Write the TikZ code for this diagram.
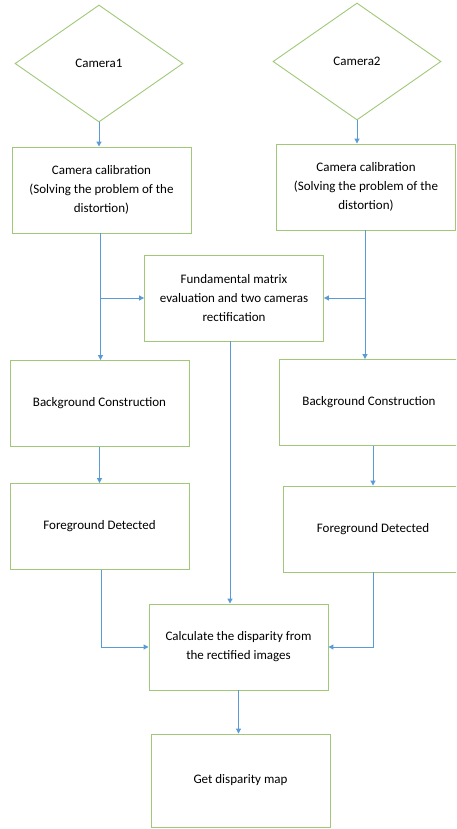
\documentclass[tikz,border=0pt]{standalone}
\usepackage{fontspec}
\setmainfont{Carlito}
\usetikzlibrary{shapes.geometric, arrows.meta}

\definecolor{boxgreen}{RGB}{160,200,120}
\definecolor{flowblue}{RGB}{91,155,213}

\tikzset{
    stepbox/.style={draw=boxgreen, line width=0.9pt, minimum width=179pt, minimum height=86pt,
        align=center, font=\fontsize{13}{19}\selectfont, inner sep=2pt},
    camera/.style={draw=boxgreen, line width=0.9pt, diamond, aspect=1.44, minimum width=168pt,
        minimum height=117pt, inner sep=0pt, font=\fontsize{13}{19}\selectfont},
    flow/.style={draw=flowblue, line width=1pt, -{Triangle[length=5pt, width=5pt]}},
}

\begin{document}
\begin{tikzpicture}[x=1pt, y=-1pt]
    \clip (0,0) rectangle (456,829);

    % Cameras
    \node[camera] (cam1) at (99,63.5) {Camera1};
    \node[camera] (cam2) at (357,61.5) {Camera2};

    % Calibration
    \node[stepbox] (cc1) at (101.5,190) {Camera calibration\\(Solving the problem of the\\distortion)};
    \node[stepbox] (cc2) at (366,187) {Camera calibration\\(Solving the problem of the\\distortion)};

    % Rectification
    \node[stepbox] (fund) at (234,298) {Fundamental matrix\\evaluation and two cameras\\rectification};

    % Background and foreground
    \node[stepbox] (bg1) at (99.5,403.5) {Background Construction};
    \node[stepbox] (bg2) at (369,402.5) {Background Construction};
    \node[stepbox] (fg1) at (99.5,526.5) {Foreground Detected};
    \node[stepbox] (fg2) at (373,529) {Foreground Detected};

    % Disparity
    \node[stepbox] (calc) at (238.5,647) {Calculate the disparity from\\the rectified images};
    \node[stepbox, minimum height=93pt] (get) at (240.5,780.5) {Get disparity map};

    % Connectors
    \coordinate (left) at ([xshift=-1pt]cc1.south);
    \coordinate (right) at ([xshift=-1pt]cc2.south);
    \draw[flow] (cam1.south) -- (cam1.south |- cc1.north);
    \draw[flow] (cam2.south) -- (cam2.south |- cc2.north);
    \draw[flow] (left) -- (left |- bg1.north);
    \draw[flow] (left |- fund.west) -- (fund.west);
    \draw[flow] (right) -- (right |- bg2.north);
    \draw[flow] (right |- fund.east) -- (fund.east);
    \draw[flow] (bg1.south) -- (fg1.north);
    \draw[flow] (fg2.north |- bg2.south) -- (fg2.north);
    \draw[flow] ([xshift=-4pt]fund.south) -- ([xshift=-4pt]fund.south |- calc.north);
    \draw[flow] ([xshift=2pt]fg1.south) |- (calc.west);
    \draw[flow] (fg2.south) |- (calc.east);
    \draw[flow] (calc.south) -- (calc.south |- get.north);
\end{tikzpicture}
\end{document}
